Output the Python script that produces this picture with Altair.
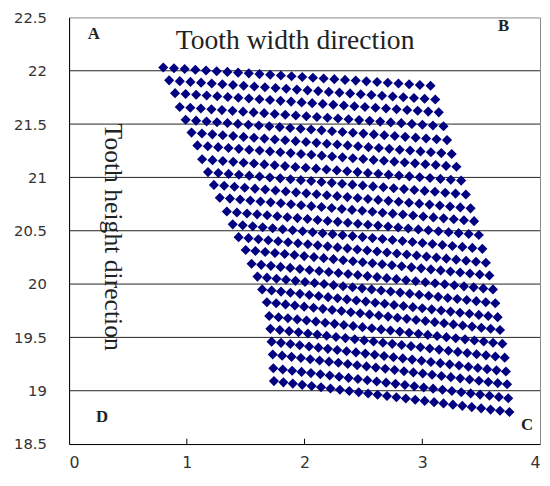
import altair as alt
import pandas as pd
import numpy as np

# Per-row edge positions of the point grid (rows from top to bottom)
row_left_x = [0.80, 0.85, 0.90, 0.94, 0.99, 1.04, 1.09, 1.13, 1.18, 1.23, 1.28, 1.34, 1.39,
              1.44, 1.50, 1.55, 1.60, 1.64, 1.68, 1.70, 1.71, 1.72, 1.73, 1.735, 1.74]
row_left_y = [22.03, 21.91, 21.79, 21.66, 21.54, 21.42, 21.30, 21.17, 21.05, 20.93, 20.81,
              20.68, 20.56, 20.44, 20.32, 20.19, 20.07, 19.95, 19.83, 19.70, 19.58, 19.46,
              19.34, 19.21, 19.09]
row_right_x = [3.07, 3.11, 3.14, 3.18, 3.21, 3.25, 3.29, 3.33, 3.37, 3.41, 3.44, 3.48, 3.51,
               3.54, 3.57, 3.60, 3.62, 3.64, 3.66, 3.68, 3.70, 3.71, 3.72, 3.73, 3.74]
row_right_y = [21.86, 21.73, 21.61, 21.48, 21.35, 21.22, 21.10, 20.97, 20.84, 20.71, 20.59,
               20.46, 20.33, 20.20, 20.08, 19.95, 19.82, 19.69, 19.57, 19.44, 19.31, 19.18,
               19.06, 18.93, 18.80]
n_cols = 26

x_ticks = [0, 1, 2, 3, 4]
y_ticks = [18.5, 19, 19.5, 20, 20.5, 21, 21.5, 22, 22.5]
grid_y = [19, 19.5, 20, 20.5, 21, 21.5, 22]
inner_ticks_x = [1, 2, 3]

corner_labels = ["A", "B", "C", "D"]
corner_x = [0.21, 3.69, 3.89, 0.28]
corner_y = [22.34, 22.42, 18.68, 18.75]

width_label = "Tooth width direction"
height_label = "Tooth height direction"

rows = []
for lx, ly, rx, ry in zip(row_left_x, row_left_y, row_right_x, row_right_y):
    for t in np.linspace(0, 1, n_cols):
        rows.append({"x": lx + (rx - lx) * t, "y": ly + (ry - ly) * t})
pts = pd.DataFrame(rows)

xs = alt.Scale(domain=[0, 4], nice=False, zero=False)
ys = alt.Scale(domain=[18.5, 22.5], nice=False, zero=False)

xaxis = alt.Axis(values=x_ticks, grid=False, ticks=False, domainColor="black", domainWidth=1,
                 labelPadding=11, labelFontSize=16, labelColor="#333", labelFont="DejaVu Sans",
                 title=None, format="~g")
yaxis = alt.Axis(values=y_ticks, grid=False, ticks=False, domainColor="black", domainWidth=1,
                 labelPadding=23, labelFontSize=15, labelColor="#333", labelFont="DejaVu Sans",
                 title=None, format="~g")

X = alt.X("x:Q", scale=xs, axis=xaxis)
Y = alt.Y("y:Q", scale=ys, axis=yaxis)

grid = alt.Chart(pd.DataFrame({"y": grid_y})).mark_rule(color="#222", strokeWidth=1).encode(y=Y)

ticks = alt.Chart(pd.DataFrame({"x": inner_ticks_x, "y": [18.5] * 3, "y2": [18.55] * 3})).mark_rule(
    color="black", strokeWidth=1).encode(x=X, y=Y, y2="y2:Q")

points = alt.Chart(pts).mark_point(shape="diamond", filled=True, size=105, color="#000080",
                                   opacity=1).encode(x=X, y=Y)

corners = alt.Chart(pd.DataFrame({"x": corner_x, "y": corner_y, "t": corner_labels})).mark_text(
    font="Liberation Serif", fontSize=17, fontWeight="bold", color="#222",
    align="center", baseline="middle").encode(x=X, y=Y, text="t:N")

top_text = alt.Chart(pd.DataFrame({"x": [1.92], "y": [22.28], "t": [width_label]})).mark_text(
    font="Liberation Serif", fontSize=28, color="#222", align="center", baseline="middle"
).encode(x=X, y=Y, text="t:N")

side_text = alt.Chart(pd.DataFrame({"x": [0.37], "y": [20.44], "t": [height_label]})).mark_text(
    font="Liberation Serif", fontSize=26, color="#222", align="center", baseline="middle", angle=90
).encode(x=X, y=Y, text="t:N")

chart = alt.layer(grid, ticks, points, corners, top_text, side_text).properties(
    width=478, height=433, autosize="none",
    padding={"left": 62, "top": 6, "right": 2, "bottom": 39},
).configure_view(stroke="#888", strokeWidth=1)

chart.save("out.html", embed_options={"renderer": "svg", "actions": False})
